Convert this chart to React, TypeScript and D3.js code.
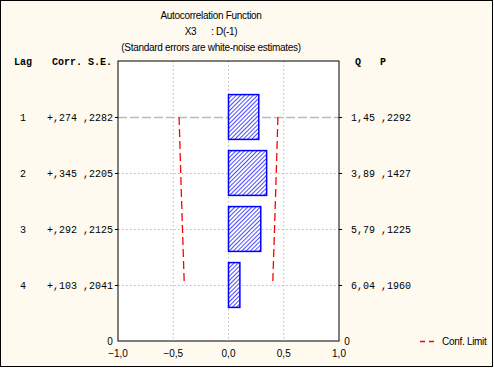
import React, { useEffect, useRef } from 'react'
import * as d3 from 'd3'

// values
const lags = [1, 2, 3, 4]
const corr = [0.274, 0.345, 0.292, 0.103]
const stdErr = [0.2282, 0.2205, 0.2125, 0.2041]
const corrLabels = ['+,274', '+,345', '+,292', '+,103']
const seLabels = [',2282', ',2205', ',2125', ',2041']
const qLabels = ['1,45', '3,89', '5,79', '6,04']
const pLabels = [',2292', ',1427', ',1225', ',1960']
const xTicks = [-1, -0.5, 0, 0.5, 1]

const W = 494, H = 368
const plot = { left: 118, right: 339, top: 61, bottom: 341 }
const mono = "'Liberation Mono', 'DejaVu Sans Mono', monospace"
const sans = "'Liberation Sans', Arial, sans-serif"

export default function App() {
  const ref = useRef<SVGSVGElement | null>(null)

  useEffect(() => {
    document.body.style.margin = '0'
    const svg = d3.select(ref.current)
    svg.selectAll('*').remove()

    const x = d3.scaleLinear([-1, 1], [plot.left, plot.right])
    const y = d3.scaleLinear([0, 5], [plot.top, plot.bottom])
    const band = (y(1) - y(0)) * 0.8
    const fmt = (v: number) => d3.format('.1f')(v).replace('.', ',')

    svg.append('rect').attr('x', 0.5).attr('y', 0.5).attr('width', W - 2).attr('height', H - 2)
      .attr('fill', '#fffaf0').attr('stroke', '#000')

    const defs = svg.append('defs')
    const pat = defs.append('pattern').attr('id', 'hatch').attr('patternUnits', 'userSpaceOnUse')
      .attr('width', 3).attr('height', 3).attr('patternTransform', 'rotate(45)')
    pat.append('rect').attr('width', 3).attr('height', 3).attr('fill', '#fff')
    pat.append('line').attr('x1', 0).attr('y1', 0).attr('x2', 0).attr('y2', 3)
      .attr('stroke', '#0000ff').attr('stroke-width', 1.4)

    svg.append('rect').attr('x', plot.left).attr('y', plot.top)
      .attr('width', plot.right - plot.left).attr('height', plot.bottom - plot.top).attr('fill', '#fff')

    // titles
    const title = svg.append('g').attr('font-family', sans).attr('font-size', 10).attr('text-anchor', 'middle')
      .attr('letter-spacing', -0.3)
    title.append('text').attr('x', 211).attr('y', 19).text('Autocorrelation Function')
    title.append('text').attr('x', 211).attr('y', 35).attr('xml:space', 'preserve').text('X3      : D(-1)')
    title.append('text').attr('x', 211).attr('y', 51).text('(Standard errors are white-noise estimates)')

    // grid
    const grid = svg.append('g').attr('stroke', '#b8b8b8').attr('stroke-dasharray', '1.5,2.5')
    grid.selectAll('line.v').data([-0.5, 0, 0.5]).join('line')
      .attr('x1', d => x(d)).attr('x2', d => x(d)).attr('y1', plot.top).attr('y2', plot.bottom)
    grid.selectAll('line.h').data(lags.slice(1)).join('line')
      .attr('x1', plot.left).attr('x2', plot.right).attr('y1', d => y(d) + 0.5).attr('y2', d => y(d) + 0.5)
    svg.append('line').attr('x1', plot.left).attr('x2', plot.right)
      .attr('y1', y(lags[0]) + 0.5).attr('y2', y(lags[0]) + 0.5)
      .attr('stroke', '#bcbcbc').attr('stroke-width', 1.5).attr('stroke-dasharray', '9,3')

    // bars
    svg.append('g').selectAll('rect').data(lags).join('rect')
      .attr('x', x(0)).attr('y', (d) => y(d) - band / 2)
      .attr('width', (d, i) => x(corr[i]) - x(0)).attr('height', band)
      .attr('fill', 'url(#hatch)').attr('stroke', '#0000ff').attr('stroke-width', 1.5)

    // confidence limits
    const line = d3.line<number>().x(d => d).y((_, i) => y(lags[i]))
    const upper = stdErr.map(s => x(1.96 * s))
    const lower = stdErr.map(s => x(-1.96 * s))
    for (const pts of [upper, lower]) {
      svg.append('path').attr('d', line(pts)).attr('fill', 'none').attr('stroke', '#ff0000')
        .attr('stroke-width', 1.3).attr('stroke-dasharray', '8,4')
    }

    // plot frame
    svg.append('rect').attr('x', plot.left).attr('y', plot.top)
      .attr('width', plot.right - plot.left).attr('height', plot.bottom - plot.top)
      .attr('fill', 'none').attr('stroke', '#000')

    // row ticks
    svg.append('g').selectAll('line').data(lags).join('line')
      .attr('x1', plot.left - 3).attr('x2', plot.left).attr('y1', d => y(d) + 0.5).attr('y2', d => y(d) + 0.5)
      .attr('stroke', '#000')
    svg.append('g').selectAll('line').data(lags).join('line')
      .attr('x1', plot.right).attr('x2', plot.right + 3).attr('y1', d => y(d) + 0.5).attr('y2', d => y(d) + 0.5)
      .attr('stroke', '#000')

    // x axis
    const xa = svg.append('g').attr('font-family', sans).attr('font-size', 10).attr('text-anchor', 'middle')
    xa.selectAll('text').data(xTicks).join('text')
      .attr('x', d => x(d)).attr('y', plot.bottom + 16).text(d => fmt(d))
    svg.append('text').attr('x', plot.left - 8).attr('y', plot.bottom + 4).attr('font-family', sans)
      .attr('font-size', 10).attr('text-anchor', 'middle').text('0')
    svg.append('text').attr('x', plot.right + 8).attr('y', plot.bottom + 4).attr('font-family', sans)
      .attr('font-size', 10).attr('text-anchor', 'middle').text('0')

    // table columns
    const tbl = svg.append('g').attr('font-family', mono).attr('font-size', 10).attr('fill', '#000')
    tbl.append('text').attr('x', 14).attr('y', 65).attr('font-weight', 'bold').text('Lag')
    tbl.append('text').attr('x', 52).attr('y', 65).attr('font-weight', 'bold').attr('xml:space', 'preserve').text('Corr. S.E.')
    tbl.append('text').attr('x', 355).attr('y', 65).attr('font-weight', 'bold').text('Q')
    tbl.append('text').attr('x', 380).attr('y', 65).attr('font-weight', 'bold').text('P')
    const rows = tbl.selectAll('g.row').data(lags).join('g')
    rows.append('text').attr('x', 20).attr('y', d => y(d) + 4).text(d => d)
    rows.append('text').attr('x', 113).attr('y', d => y(d) + 4).attr('text-anchor', 'end')
      .attr('xml:space', 'preserve').text((_, i) => `${corrLabels[i]} ${seLabels[i]}`)
    rows.append('text').attr('x', 351).attr('y', d => y(d) + 4)
      .attr('xml:space', 'preserve').text((_, i) => `${qLabels[i]} ${pLabels[i]}`)

    // legend
    svg.append('line').attr('x1', 420).attr('x2', 437).attr('y1', plot.bottom + 0.5).attr('y2', plot.bottom + 0.5)
      .attr('stroke', '#ff0000').attr('stroke-width', 1.3).attr('stroke-dasharray', '5,4')
    svg.append('text').attr('x', 442).attr('y', plot.bottom + 4).attr('font-family', sans)
      .attr('font-size', 10).attr('letter-spacing', -0.3).text('Conf. Limit')
  }, [])

  return <svg ref={ref} width={W} height={H} style={{ position: 'absolute', left: 0, top: 0 }} />
}
